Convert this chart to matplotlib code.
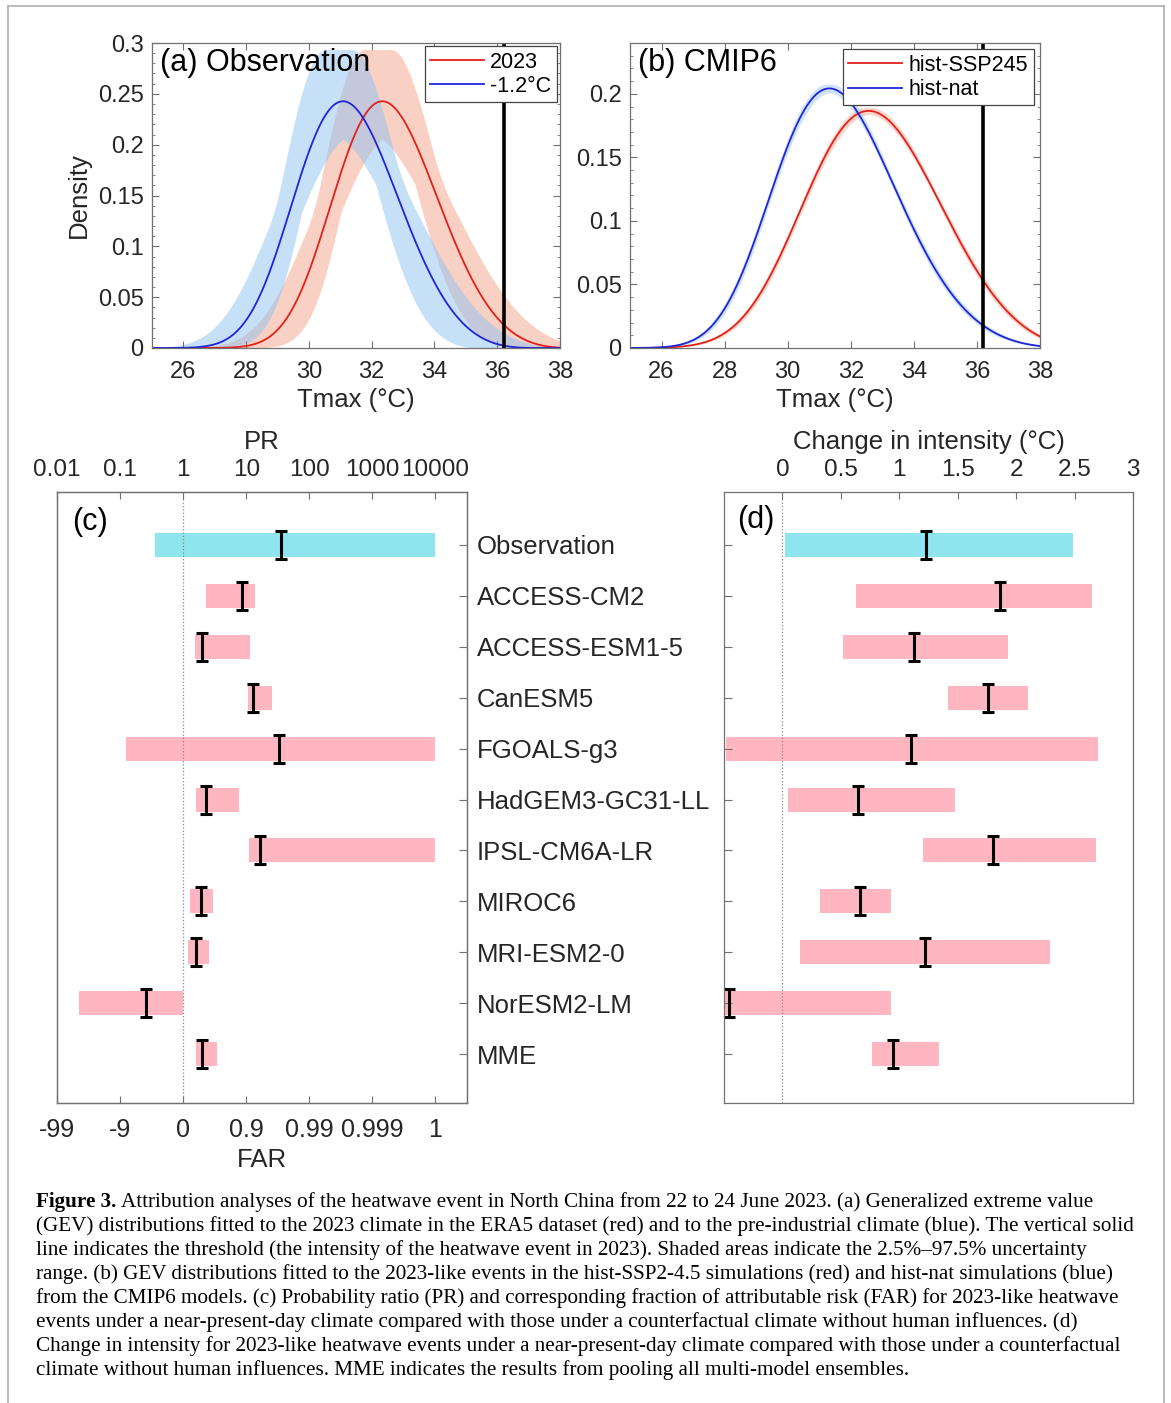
import numpy as np
import matplotlib
matplotlib.use("Agg")
import matplotlib.pyplot as plt
from matplotlib.lines import Line2D
from matplotlib.ticker import MultipleLocator, FixedLocator, NullLocator

plt.rcParams["font.family"] = ["Liberation Sans", "DejaVu Sans"]

# (a) observation: GEV fits (location, scale, shape) and spread of the fits
obs_names = ["2023", "-1.2°C"]
obs_loc = [31.94, 30.69]
obs_scale = [1.56, 1.56]
obs_shape = [-0.23, -0.23]
obs_loc_rng = [(31.45, 32.30), (30.20, 31.05)]
obs_scale_rng = [(1.29, 1.80), (1.29, 1.80)]

# (b) CMIP6
cmip_names = ["hist-SSP245", "hist-nat"]
cmip_loc = [32.00, 30.92]
cmip_scale = [2.04, 1.84]
cmip_shape = [-0.25, -0.20]
cmip_loc_rng = [(31.94, 32.06), (30.86, 30.98)]
cmip_scale_rng = [(2.01, 2.07), (1.81, 1.87)]

threshold = 36.2

# (c) probability ratio, (d) change in intensity
models = ["Observation", "ACCESS-CM2", "ACCESS-ESM1-5", "CanESM5", "FGOALS-g3",
          "HadGEM3-GC31-LL", "IPSL-CM6A-LR", "MIROC6", "MRI-ESM2-0",
          "NorESM2-LM", "MME"]
pr_best = [35, 8.7, 2.0, 12.9, 33, 2.3, 16.6, 1.9, 1.6, 0.26, 2.0]
pr_low = [0.36, 2.3, 1.55, 10.7, 0.126, 1.6, 11.2, 1.3, 1.2, 0.022, 1.6]
pr_high = [10000, 13.8, 11.5, 25.7, 10000, 7.8, 10000, 3.0, 2.6, 1.0, 3.5]

di_best = [1.23, 1.86, 1.13, 1.76, 1.10, 0.65, 1.80, 0.66, 1.22, -0.455, 0.95]
di_low = [0.02, 0.63, 0.52, 1.42, -0.48, 0.05, 1.20, 0.32, 0.15, -0.60, 0.77]
di_high = [2.49, 2.65, 1.93, 2.10, 2.70, 1.48, 2.68, 0.93, 2.29, 0.93, 1.34]

pr_ticks = [0.01, 0.1, 1, 10, 100, 1000, 10000]
pr_labels = ["0.01", "0.1", "1", "10", "100", "1000", "10000"]
far_labels = ["-99", "-9", "0", "0.9", "0.99", "0.999", "1"]
di_ticks = [0, 0.5, 1, 1.5, 2, 2.5, 3]
di_labels = ["0", "0.5", "1", "1.5", "2", "2.5", "3"]

caption = [
    "Attribution analyses of the heatwave event in North China from 22 to 24 June 2023. (a) Generalized extreme value",
    "(GEV) distributions fitted to the 2023 climate in the ERA5 dataset (red) and to the pre-industrial climate (blue). The vertical solid",
    "line indicates the threshold (the intensity of the heatwave event in 2023). Shaded areas indicate the 2.5%\u201397.5% uncertainty",
    "range. (b) GEV distributions fitted to the 2023-like events in the hist-SSP2-4.5 simulations (red) and hist-nat simulations (blue)",
    "from the CMIP6 models. (c) Probability ratio (PR) and corresponding fraction of attributable risk (FAR) for 2023-like heatwave",
    "events under a near-present-day climate compared with those under a counterfactual climate without human influences. (d)",
    "Change in intensity for 2023-like heatwave events under a near-present-day climate compared with those under a counterfactual",
    "climate without human influences. MME indicates the results from pooling all multi-model ensembles.",
]

RED = "#e3201b"
BLUE = "#2323d8"
SPINE = "#707070"
TXT = "#262626"


def gev_pdf(x, loc, scale, shape):
    z = 1 + shape * (x - loc) / scale
    out = np.zeros_like(x)
    ok = z > 0
    t = z[ok] ** (-1 / shape)
    out[ok] = t ** (shape + 1) * np.exp(-t) / scale
    return out


def envelope(x, loc_rng, scale_rng, shape):
    curves = [gev_pdf(x, l, s, shape)
              for l in np.linspace(loc_rng[0], loc_rng[1], 31)
              for s in np.linspace(scale_rng[0], scale_rng[1], 31)]
    return np.min(curves, axis=0), np.max(curves, axis=0)


def style(ax):
    for sp in ax.spines.values():
        sp.set_color(SPINE)
        sp.set_linewidth(0.9)
    ax.tick_params(which="both", direction="in", color=SPINE, labelcolor=TXT,
                   labelsize=17)
    ax.tick_params(which="major", length=5)
    ax.tick_params(which="minor", length=2.5)


fig = plt.figure(figsize=(11.71, 14.03), dpi=100)
W, H = 1171, 1403


def axes_px(x0, y0, x1, y1):
    return fig.add_axes([x0 / W, 1 - y1 / H, (x1 - x0) / W, (y1 - y0) / H])


x = np.linspace(25, 38, 800)
band_cols = ["#f5a58a", "#8ec3f2"]

# ---- (a) ----
axa = axes_px(152, 43, 560, 348)
for i in range(2):
    lo, hi = envelope(x, obs_loc_rng[i], obs_scale_rng[i], obs_shape[i])
    axa.fill_between(x, lo, hi, color=band_cols[i], alpha=0.5, lw=0)
for i, c in enumerate([RED, BLUE]):
    axa.plot(x, gev_pdf(x, obs_loc[i], obs_scale[i], obs_shape[i]), color=c,
             lw=1.3, label=obs_names[i])
axa.axvline(threshold, color="k", lw=2.6)
axa.set_xlim(25, 38)
axa.set_ylim(0, 0.3)
axa.set_xticks([26, 28, 30, 32, 34, 36, 38])
axa.set_yticks([0, 0.05, 0.1, 0.15, 0.2, 0.25, 0.3])
axa.set_yticklabels(["0", "0.05", "0.1", "0.15", "0.2", "0.25", "0.3"])
axa.yaxis.set_minor_locator(MultipleLocator(0.01))
axa.tick_params(top=True, right=True, which="both")
style(axa)
axa.tick_params(axis="x", pad=9)
axa.tick_params(axis="y", pad=6)
axa.set_xlabel("Tmax (°C)", fontsize=18.5, color=TXT, labelpad=4)
axa.set_ylabel("Density", fontsize=18.5, color=TXT, labelpad=5)
axa.text(0.02, 0.934, "(a) Observation", transform=axa.transAxes, fontsize=22,
         va="center", ha="left", color="k")
leg = axa.legend(loc="upper right", fontsize=15.5, handlelength=2.5,
                 handletextpad=0.3, borderpad=0.25, labelspacing=0.15,
                 borderaxespad=0.15, fancybox=False, framealpha=1)
leg.get_frame().set_edgecolor("#444444")
leg.get_frame().set_linewidth(0.9)

# ---- (b) ----
axb = axes_px(630, 43, 1040, 348)
for i in range(2):
    lo, hi = envelope(x, cmip_loc_rng[i], cmip_scale_rng[i], cmip_shape[i])
    axb.fill_between(x, lo, hi, color=band_cols[i], alpha=0.45, lw=0)
for i, c in enumerate([RED, BLUE]):
    axb.plot(x, gev_pdf(x, cmip_loc[i], cmip_scale[i], cmip_shape[i]), color=c,
             lw=1.3, label=cmip_names[i])
axb.axvline(threshold, color="k", lw=2.6)
axb.set_xlim(25, 38)
axb.set_ylim(0, 0.24)
axb.set_xticks([26, 28, 30, 32, 34, 36, 38])
axb.set_yticks([0, 0.05, 0.1, 0.15, 0.2])
axb.set_yticklabels(["0", "0.05", "0.1", "0.15", "0.2"])
axb.yaxis.set_minor_locator(MultipleLocator(0.01))
axb.tick_params(top=True, right=True, which="both")
style(axb)
axb.tick_params(axis="x", pad=9)
axb.tick_params(axis="y", pad=6)
axb.set_xlabel("Tmax (°C)", fontsize=18.5, color=TXT, labelpad=4)
axb.text(0.02, 0.934, "(b) CMIP6", transform=axb.transAxes, fontsize=22,
         va="center", ha="left", color="k")
leg = axb.legend(loc="upper right", fontsize=15.5, handlelength=2.5,
                 handletextpad=0.3, borderpad=0.25, labelspacing=0.15,
                 borderaxespad=0.3, fancybox=False, framealpha=1)
leg.get_frame().set_edgecolor("#444444")
leg.get_frame().set_linewidth(0.9)

rows = np.arange(1, len(models) + 1)
bar_cols = ["#8ee5ee"] + ["#ffb6c1"] * (len(models) - 1)

# ---- (c) ----
axc = axes_px(57, 492, 467, 1103)
axc.set_xscale("log")
axc.barh(rows, np.array(pr_high) - np.array(pr_low), left=pr_low, height=0.47,
         color=bar_cols, lw=0)
axc.errorbar(pr_best, rows, yerr=0.275, fmt="none", ecolor="k", elinewidth=2.2,
             capsize=4.6, capthick=2.2)
axc.axvline(1, color="#888888", ls=":", lw=0.9)
axc.set_xlim(10 ** -2, 10 ** 4.5)
axc.set_ylim(11.96, -0.04)
axc.xaxis.set_major_locator(FixedLocator(pr_ticks))
axc.xaxis.set_minor_locator(NullLocator())
axc.set_xticklabels(far_labels)
axc.yaxis.tick_right()
axc.set_yticks(rows)
axc.set_yticklabels(models, fontsize=18.5)
style(axc)
axc.tick_params(axis="x", labelsize=18, pad=11)
axc.tick_params(axis="y", labelsize=18.5, pad=7, length=6)
axc.set_xlabel("FAR", fontsize=18.5, color=TXT, labelpad=4)

axc_top = axc.twiny()
axc_top.set_xscale("log")
axc_top.set_xlim(axc.get_xlim())
axc_top.xaxis.set_major_locator(FixedLocator(pr_ticks))
axc_top.xaxis.set_minor_locator(NullLocator())
axc_top.set_xticklabels(pr_labels)
style(axc_top)
axc_top.tick_params(axis="x", labelsize=17.5, pad=8)
axc_top.set_xlabel("PR", fontsize=18.5, color=TXT, labelpad=7)
axc.text(0.037, 0.951, "(c)", transform=axc.transAxes, fontsize=22,
         va="center", ha="left", color="k")

# ---- (d) ----
axd = axes_px(724, 492, 1133, 1103)
axd.barh(rows, np.array(di_high) - np.array(di_low), left=di_low, height=0.47,
         color=bar_cols, lw=0)
axd.errorbar(di_best, rows, yerr=0.275, fmt="none", ecolor="k", elinewidth=2.2,
             capsize=4.6, capthick=2.2)
axd.axvline(0, color="#888888", ls=":", lw=0.9)
axd.set_xlim(-0.5, 3)
axd.set_ylim(11.96, -0.04)
axd.xaxis.tick_top()
axd.xaxis.set_label_position("top")
axd.set_xticks(di_ticks)
axd.set_xticklabels(di_labels)
axd.set_yticks(rows)
axd.set_yticklabels([])
style(axd)
axd.tick_params(axis="x", labelsize=17.5, pad=8)
axd.tick_params(axis="y", length=6)
axd.set_xlabel("Change in intensity (°C)", fontsize=18.5, color=TXT, labelpad=7)
axd.text(0.032, 0.954, "(d)", transform=axd.transAxes, fontsize=22,
         va="center", ha="left", color="k")

# ---- caption ----
serif = ["Liberation Serif", "DejaVu Serif"]
fig.canvas.draw()
renderer = fig.canvas.get_renderer()
y0 = 1202
for k, line in enumerate(caption):
    yy = 1 - (y0 + 24 * k) / H
    if k == 0:
        t = fig.text(36 / W, yy, "Figure 3.", family=serif, weight="bold",
                     fontsize=15.2, va="center", ha="left")
        bb = t.get_window_extent(renderer)
        fig.text(bb.x1 / W + 5 / W, yy, line, family=serif, fontsize=15.2,
                 va="center", ha="left")
    else:
        fig.text(36 / W, yy, line, family=serif, fontsize=15.2, va="center",
                 ha="left")

# frame around the figure
for xs, ys in [([8, 8], [6, H]), ([8, 1164], [6, 6]), ([1164, 1164], [6, H])]:
    fig.add_artist(Line2D([v / W for v in xs], [1 - v / H for v in ys],
                          color="#b0b0b0", lw=1.2))

fig.savefig("out.png", dpi=100)
